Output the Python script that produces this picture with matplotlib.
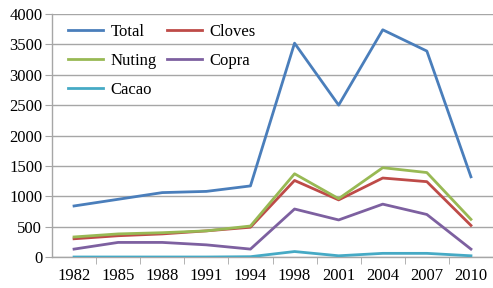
import matplotlib
matplotlib.use("Agg")
import matplotlib.pyplot as plt
import numpy as np

years = ["1982", "1985", "1988", "1991", "1994", "1998", "2001", "2004", "2007", "2010"]
total = [840, 950, 1060, 1080, 1170, 3520, 2500, 3740, 3390, 1320]
cloves = [300, 350, 380, 430, 490, 1260, 940, 1300, 1240, 520]
nuting = [330, 380, 400, 430, 510, 1370, 960, 1470, 1390, 620]
copra = [130, 240, 240, 200, 130, 790, 610, 870, 700, 130]
cacao = [0, 0, 0, 0, 5, 90, 20, 60, 60, 20]

plt.rcParams['font.family'] = ['Liberation Serif', 'DejaVu Serif']

fig = plt.figure(figsize=(4.93, 2.88), dpi=100)
ax = fig.add_axes([52/493, 1-257/288, 1-52/493, (257-14)/288])

x = np.arange(len(years))
series = [("Total", total, "#4A7EBB"),
          ("Cloves", cloves, "#BE4B48"),
          ("Nuting", nuting, "#98B954"),
          ("Copra", copra, "#7D60A0"),
          ("Cacao", cacao, "#46AAC5")]
handles = {}
for name, vals, col in series:
    h, = ax.plot(x, vals, color=col, lw=2.0, label=name, zorder=3)
    handles[name] = h

ax.set_xlim(-0.5, 9.5)
ax.set_ylim(0, 4000)
ax.set_yticks(range(0, 4001, 500))
ax.yaxis.grid(True, color="#A6A6A6", lw=1.0)
ax.set_axisbelow(True)
ax.set_xticks(x)
ax.set_xticklabels(years)
ax.set_xticks(np.arange(0.5, 9.5, 1), minor=True)
ax.tick_params(axis='x', which='major', length=0, pad=8, labelsize=12)
ax.tick_params(axis='x', which='minor', length=5, color="#A6A6A6", direction='out')
ax.tick_params(axis='y', length=5, color="#A6A6A6", labelsize=12, pad=2)
for s in ["top", "right"]:
    ax.spines[s].set_visible(False)
for s in ["left", "bottom"]:
    ax.spines[s].set_color("#A6A6A6")
    ax.spines[s].set_linewidth(1.0)

order = ["Total", "Nuting", "Cacao", "Cloves", "Copra"]
ax.legend([handles[n] for n in order], order, ncol=2, frameon=False,
          loc="upper left", bbox_to_anchor=(0.002, 1.022), fontsize=12,
          handlelength=2.1, handletextpad=0.45, columnspacing=0.6, labelspacing=0.8)

fig.savefig("out.png", dpi=100)
